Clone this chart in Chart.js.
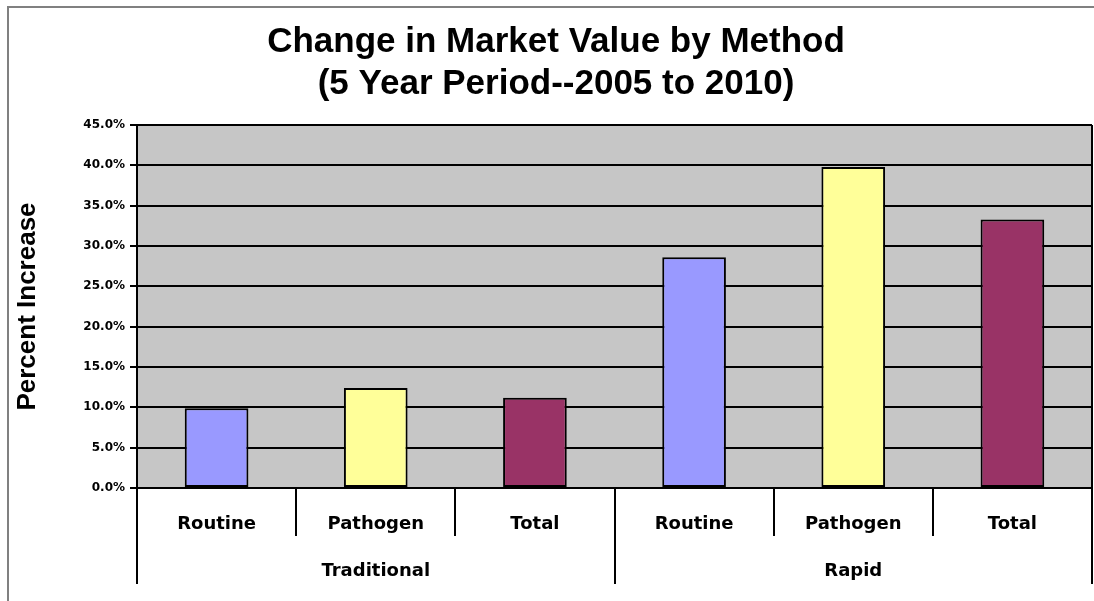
<!DOCTYPE html>
<html>
<head>
<meta charset="utf-8">
<script src="https://cdn.jsdelivr.net/npm/chart.js@4/dist/chart.umd.min.js"></script>
<style>
  html, body { margin: 0; padding: 0; background: #fff; }
  #wrap { width: 1094px; height: 601px; }
</style>
</head>
<body>
<div id="wrap"><canvas id="marketChart" width="1094" height="601"></canvas></div>
<script>
// Chart data
const groups = ['Traditional', 'Rapid'];
const groupSizes = [3, 3];
const categories = ['Routine', 'Pathogen', 'Total', 'Routine', 'Pathogen', 'Total'];
const percentIncrease = [9.9, 12.4, 11.2, 28.6, 39.8, 33.3];
const yMin = 0;
const yMax = 45;
const yStep = 5;

const barColors = ['#9999FF', '#FFFF99', '#993366', '#9999FF', '#FFFF99', '#993366'];

// Draws the white frame, gray plot background, separators and group labels
const groupAxisPlugin = {
    id: 'groupAxis',
    beforeDraw(chart) {
        const { ctx, chartArea: a } = chart;
        ctx.save();
        ctx.fillStyle = '#ffffff';
        ctx.fillRect(0, 0, chart.width, chart.height);
        ctx.strokeStyle = '#808080';
        ctx.lineWidth = 2;
        ctx.strokeRect(8, 7, chart.width + 20, chart.height + 20);
        ctx.fillStyle = '#C6C6C6';
        ctx.fillRect(a.left, a.top, a.right - a.left, a.bottom - a.top);
        ctx.restore();
    },
    afterDraw(chart) {
        const { ctx, chartArea: a } = chart;
        const x = chart.scales.x;
        const step = x.getPixelForValue(1) - x.getPixelForValue(0);
        ctx.save();
        ctx.strokeStyle = '#000';
        ctx.lineWidth = 2;
        // right edge of plot
        ctx.beginPath();
        ctx.moveTo(a.right, a.top);
        ctx.lineTo(a.right, a.bottom);
        ctx.stroke();

        // group boundaries (indices where a group starts/ends)
        const groupEdges = [0];
        groupSizes.forEach(n => groupEdges.push(groupEdges[groupEdges.length - 1] + n));

        for (let i = 0; i <= categories.length; i++) {
            const px = Math.round(x.getPixelForValue(i) - step / 2);
            const isGroupEdge = groupEdges.includes(i);
            ctx.beginPath();
            ctx.moveTo(px, a.bottom);
            ctx.lineTo(px, isGroupEdge ? a.bottom + 96 : a.bottom + 48);
            ctx.stroke();
        }

        ctx.fillStyle = '#000';
        ctx.font = 'bold 18px "DejaVu Sans"';
        ctx.textAlign = 'center';
        ctx.textBaseline = 'middle';
        groups.forEach((g, gi) => {
            const x0 = x.getPixelForValue(groupEdges[gi]) - step / 2;
            const x1 = x.getPixelForValue(groupEdges[gi + 1]) - step / 2;
            ctx.fillText(g, (x0 + x1) / 2, a.bottom + 83);
        });
        ctx.restore();
    }
};

const ctx = document.getElementById('marketChart').getContext('2d');
const marketChart = new Chart(ctx, {
    type: 'bar',
    data: {
        labels: categories,
        datasets: [{
            label: 'Percent Increase',
            data: percentIncrease,
            backgroundColor: barColors,
            borderColor: '#000',
            borderWidth: 2,
            borderSkipped: false,
            barPercentage: 0.4,
            categoryPercentage: 1.0
        }]
    },
    options: {
        responsive: false,
        animation: false,
        layout: { padding: { left: 20, right: 2, top: 0, bottom: 0 } }, // left pad centres the title on the frame
        scales: {
            x: {
                grid: { display: false },
                border: { display: true, color: '#000', width: 2 },
                ticks: {
                    color: '#000',
                    font: { family: 'DejaVu Sans', size: 18, weight: 'bold' },
                    padding: 18,
                    maxRotation: 0,
                    autoSkip: false
                },
                afterFit: scale => { scale.height = 113; }
            },
            y: {
                min: yMin,
                max: yMax,
                ticks: {
                    stepSize: yStep,
                    color: '#000',
                    padding: 5,
                    font: { family: 'DejaVu Sans', size: 12, weight: 'bold' },
                    callback: v => v.toFixed(1) + '%'
                },
                grid: { color: '#000', lineWidth: 2, tickLength: 7 },
                border: { display: true, color: '#000', width: 2 },
                title: {
                    display: true,
                    text: 'Percent Increase',
                    color: '#000',
                    font: { family: 'Liberation Sans', size: 26, weight: 'bold' },
                    padding: { top: -8, bottom: 0 }
                },
                afterFit: scale => { scale.width = 117; }
            }
        },
        plugins: {
            legend: { display: false },
            tooltip: { enabled: false },
            title: {
                display: true,
                text: ['Change in Market Value by Method', '(5 Year Period--2005 to 2010)'],
                color: '#000',
                font: { family: 'Liberation Sans', size: 35, weight: 'bold', lineHeight: 1.2 },
                padding: { top: 21, bottom: 20 }
            }
        }
    },
    plugins: [groupAxisPlugin]
});
</script>
</body>
</html>
